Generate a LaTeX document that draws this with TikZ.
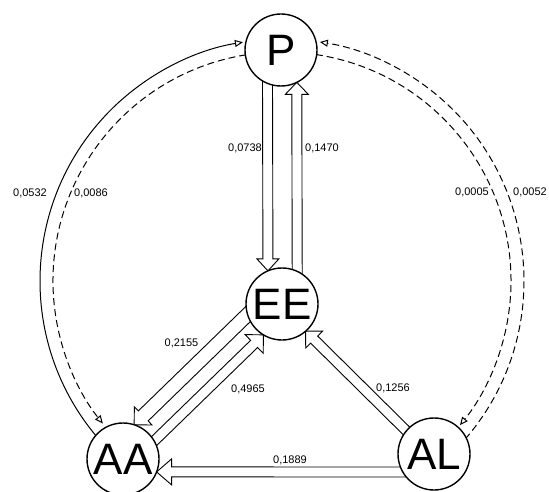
\documentclass[tikz,border=0pt]{standalone}
\usepackage{fontspec}
\setmainfont{Liberation Sans}
\usetikzlibrary{calc,arrows.meta,backgrounds}
\tikzset{
  st/.style={circle,draw,line width=1.4pt,minimum size=72pt,inner sep=0pt,outer sep=0pt,fill=white,font=\fontsize{44}{44}\selectfont},
  lbl/.style={font=\fontsize{11}{13}\selectfont,inner sep=0pt},
  fatline/.style={line width=0.9pt,line join=miter},
  arcsolid/.style={line width=1pt,-{Triangle[open,length=8pt,width=7pt]}},
  arcdash/.style={arcsolid,dash pattern=on 7pt off 4pt},
}
\newcommand\fatarr[5]{%
  \path (#2) coordinate (fa-tp) ($(#1)!-6pt!(#2)$) coordinate (fa-tl) ($(#2)!#5!(#1)$) coordinate (fa-hb);
  \draw[fatline] ($(fa-tl)!#3!90:(fa-tp)$) -- ($(fa-hb)!#3!90:(fa-tp)$) -- ($(fa-hb)!#4!90:(fa-tp)$) -- (fa-tp) -- ($(fa-hb)!#4!-90:(fa-tp)$) -- ($(fa-hb)!#3!-90:(fa-tp)$) -- ($(fa-tl)!#3!-90:(fa-tp)$);
}
\begin{document}
\begin{tikzpicture}[x=1pt,y=1pt]
\useasboundingbox (0,0) rectangle (549,491);
% states
\node[st] (P) at (281,441) {P};
\node[st] (EE) at (282,187) {EE};
\node[st] (AA) at (123,32) {AA};
\node[st] (AL) at (434,37) {AL};
\coordinate (O) at (282,210);
\begin{pgfonlayer}{background}
% big arcs
\draw[arcsolid] ([shift={(220:242)}]O) arc[start angle=220, end angle=99.3, radius=242];
\draw[arcdash] ([shift={(99:229)}]O) arc[start angle=99, end angle=218.5, radius=229];
\draw[arcdash] ([shift={(-40.8:242)}]O) arc[start angle=-40.8, end angle=81, radius=242];
\draw[arcdash] ([shift={(81.5:229)}]O) arc[start angle=81.5, end angle=-39, radius=229];
% fat arrows
\fatarr{P.248}{EE.113}{5pt}{11pt}{12pt}
\fatarr{EE.65}{P.296}{5pt}{11.5pt}{12pt}
\fatarr{EE.197}{AA.72}{7pt}{12.7pt}{12.7pt}
\fatarr{AA.30}{EE.239}{5pt}{13pt}{13pt}
\fatarr{AL.140}{EE.311}{5pt}{12pt}{12pt}
\fatarr{AL.210}{AA.339}{5pt}{13pt}{15pt}
\end{pgfonlayer}
% labels
\node[lbl,anchor=east] (l1) at (262,343) {0,0738};
\node[lbl,anchor=west] (l2) at (305,343) {0,1470};
\node[lbl] (l3) at (30,298) {0,0532};
\node[lbl] (l4) at (91,298) {0,0086};
\node[lbl] (l5) at (472,299) {0,0005};
\node[lbl] (l6) at (530,299) {0,0052};
\node[lbl] (l7) at (181.5,148) {0,2155};
\node[lbl] (l8) at (248,102) {0,4965};
\node[lbl] (l9) at (393,103) {0,1256};
\node[lbl] (l10) at (290,31) {0,1889};
\end{tikzpicture}
\end{document}
